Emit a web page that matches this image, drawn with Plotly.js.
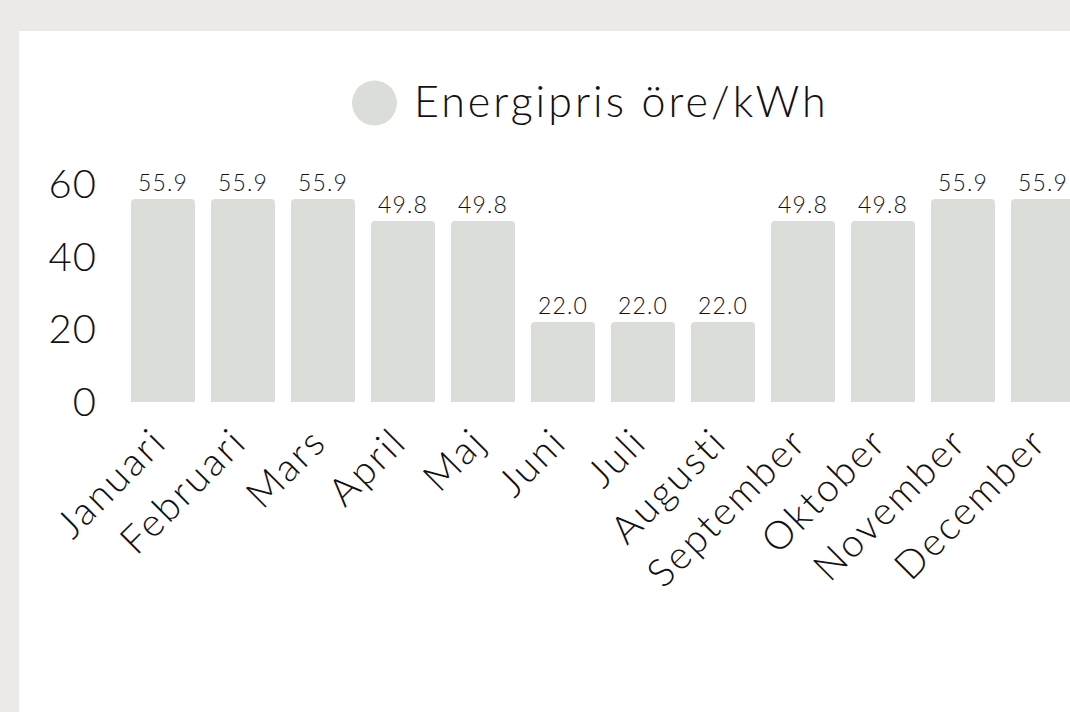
<!DOCTYPE html>
<html>
<head>
<meta charset="utf-8">
<script src="https://cdn.plot.ly/plotly-3.0.1.min.js"></script>
<style>
  html, body { margin: 0; padding: 0; background: #ede9e6; overflow: hidden; }
  #chart { position: absolute; left: 19px; top: 31px; width: 1070px; height: 700px; background: #ffffff; }
  #chart .xtick text { letter-spacing: 2.5px; }
  #chart .ytick text { letter-spacing: 1px; }
  #chart .annotation-text { letter-spacing: 3px; }
  #chart .bartext { letter-spacing: 1.2px; }
</style>
</head>
<body>
<div id="chart"></div>
<script>
const months = ["Januari","Februari","Mars","April","Maj","Juni","Juli","Augusti","September","Oktober","November","December"];
const prices = [55.9, 55.9, 55.9, 49.8, 49.8, 22.0, 22.0, 22.0, 49.8, 49.8, 55.9, 55.9];
const seriesName = "Energipris öre/kWh";
const yTicks = [0, 20, 40, 60];

const W = 1070, H = 700;
const M = { l: 104, r: 6, t: 153, b: 329 };
const plotW = W - M.l - M.r, plotH = H - M.t - M.b;
const barColor = "#dbded8";
const FONT = "Lato, 'Open Sans', sans-serif";
const TXT = "#111111";

// legend placement in pixels (inside chart div)
const legCx = 355.5, legCy = 72, legR = 22.5, legTextX = 420, legTextY = 69;
const px2x = p => (p - M.l) / plotW;
const px2y = p => (H - M.b - p) / plotH;

const trace = {
  type: "bar",
  x: months,
  y: prices,
  name: seriesName,
  marker: { color: barColor },
  text: prices.map(v => v.toFixed(1)),
  textposition: "outside",
  textfont: { family: FONT, size: 23, color: TXT, weight: 300 },
  cliponaxis: false,
  hoverinfo: "x+y",
  showlegend: false
};

const layout = {
  width: W, height: H,
  margin: M,
  paper_bgcolor: "#ffffff",
  plot_bgcolor: "#ffffff",
  font: { family: FONT, color: TXT },
  bargap: 0.2,
  barcornerradius: 4,
  showlegend: false,
  xaxis: {
    type: "category",
    tickangle: -45,
    tickfont: { family: FONT, size: 39, color: TXT, weight: 300 },
    showgrid: false, zeroline: false, showline: false, ticks: "",
    ticklabelstandoff: 8,
    ticklabelshift: -8,
    fixedrange: true
  },
  yaxis: {
    range: [0, 60],
    tickvals: yTicks,
    ticktext: yTicks.map(String),
    tickfont: { family: FONT, size: 40, color: TXT, weight: 300 },
    showgrid: false, zeroline: false, showline: false, ticks: "",
    ticklabelstandoff: 25,
    fixedrange: true
  },
  shapes: [{
    type: "circle",
    xref: "paper", yref: "paper",
    xsizemode: "pixel", ysizemode: "pixel",
    xanchor: px2x(legCx), yanchor: px2y(legCy),
    x0: -legR, x1: legR, y0: -legR, y1: legR,
    fillcolor: barColor, line: { width: 0 }
  }],
  annotations: [{
    xref: "paper", yref: "paper",
    x: px2x(legTextX), y: px2y(legTextY),
    xanchor: "left", yanchor: "middle",
    text: seriesName, showarrow: false,
    font: { family: FONT, size: 43, color: TXT, weight: 300 }
  }]
};

Plotly.newPlot("chart", [trace], layout, { displayModeBar: false });
</script>
</body>
</html>
